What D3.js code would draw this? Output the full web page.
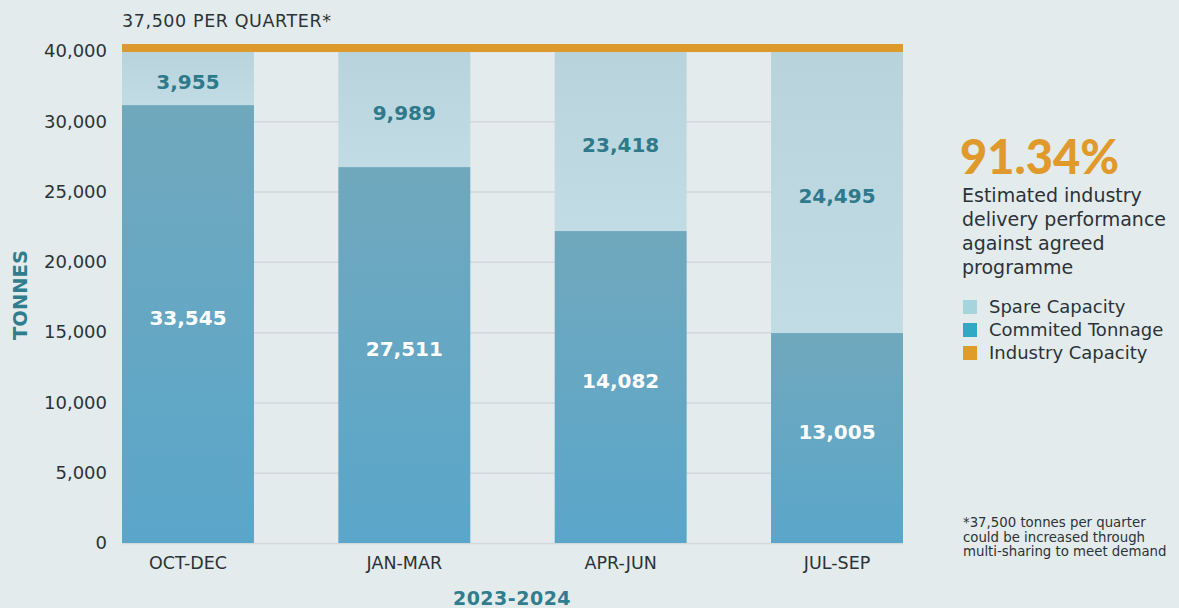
<!DOCTYPE html>
<html>
<head>
<meta charset="utf-8">
<script src="https://cdn.jsdelivr.net/npm/d3@7"></script>
<style>
  body { margin: 0; background: #e3ebed; }
  text { font-family: "DejaVu Sans", sans-serif; }
</style>
</head>
<body>
<div id="chart"></div>
<script>
// quarters on the x axis
var quarters = ["OCT-DEC", "JAN-MAR", "APR-JUN", "JUL-SEP"];
// bar heights as drawn in the picture (read against the axis)
var committedDrawn = [31150, 26740, 22190, 14935];
var totalDrawn = [35000, 35000, 35000, 35000];
var capacityLine = 35000;
// printed values
var committedLabels = ["33,545", "27,511", "14,082", "13,005"];
var spareLabels = ["3,955", "9,989", "23,418", "24,495"];
// y axis ticks (the top label reads 40,000 in the original)
var yTickValues = [0, 5000, 10000, 15000, 20000, 25000, 30000, 35000];
var yTickLabels = ["0", "5,000", "10,000", "15,000", "20,000", "25,000", "30,000", "40,000"];
// legend
var legendItems = ["Spare Capacity", "Commited Tonnage", "Industry Capacity"];
var legendColors = ["#a6d4dd", "#31a9c4", "#df9c2b"];
var noteLines = ["Estimated industry", "delivery performance", "against agreed", "programme"];
var footLines = ["*37,500 tonnes per quarter", "could be increased through", "multi-sharing to meet demand"];

var svgWidth = 1179;
var svgHeight = 608;

var svg = d3.select("#chart")
  .append("svg")
  .attr("width", svgWidth)
  .attr("height", svgHeight);

svg.append("rect")
  .attr("width", svgWidth)
  .attr("height", svgHeight)
  .attr("fill", "#e3ebed");

var defs = svg.append("defs");
var gCommit = defs.append("linearGradient")
  .attr("id", "commitGrad")
  .attr("x1", 0).attr("y1", 0).attr("x2", 0).attr("y2", 1);
gCommit.append("stop").attr("offset", "0%").attr("stop-color", "#70a8bd");
gCommit.append("stop").attr("offset", "100%").attr("stop-color", "#5aa6ca");

var gSpare = defs.append("linearGradient")
  .attr("id", "spareGrad")
  .attr("x1", 0).attr("y1", 0).attr("x2", 0).attr("y2", 1);
gSpare.append("stop").attr("offset", "0%").attr("stop-color", "#b9d3dd");
gSpare.append("stop").attr("offset", "100%").attr("stop-color", "#c1dce4");

// scales
var xScale = d3.scaleBand()
  .domain(quarters)
  .range([122, 903])
  .paddingInner(0.39)
  .paddingOuter(0);

var yScale = d3.scaleLinear()
  .domain([0, 35000])
  .range([543, 51]);

// gridlines
var grid = svg.append("g")
  .attr("transform", "translate(122,0)")
  .call(d3.axisLeft(yScale).tickValues(yTickValues).tickSize(-(903 - 122)).tickFormat(""));
grid.select(".domain").remove();
grid.selectAll("line").attr("stroke", "#d2d8db").attr("stroke-width", 1.5);

// y axis labels
var yAxis = svg.append("g")
  .attr("transform", "translate(107,0)")
  .call(d3.axisLeft(yScale).tickValues(yTickValues).tickSize(0)
    .tickFormat(function(d, i) { return yTickLabels[i]; }));
yAxis.select(".domain").remove();
yAxis.selectAll("text")
  .attr("x", 0)
  .attr("fill", "#2b3338")
  .style("font-size", "18px")
  .style("font-family", "DejaVu Sans");

// x axis labels
var xAxis = svg.append("g")
  .attr("transform", "translate(0,553)")
  .call(d3.axisBottom(xScale).tickSize(0));
xAxis.select(".domain").remove();
xAxis.selectAll("text")
  .attr("y", 0)
  .attr("dy", "0.9em")
  .attr("fill", "#2b3338")
  .style("font-size", "17.5px")
  .style("font-family", "DejaVu Sans");

// bars
var bars = svg.selectAll(".bar")
  .data(quarters)
  .enter()
  .append("g")
  .attr("class", "bar");

bars.append("rect")
  .attr("x", d => xScale(d))
  .attr("y", (d, i) => yScale(totalDrawn[i]))
  .attr("width", xScale.bandwidth())
  .attr("height", (d, i) => yScale(committedDrawn[i]) - yScale(totalDrawn[i]))
  .attr("fill", "url(#spareGrad)");

bars.append("rect")
  .attr("x", d => xScale(d))
  .attr("y", (d, i) => yScale(committedDrawn[i]))
  .attr("width", xScale.bandwidth())
  .attr("height", (d, i) => yScale(0) - yScale(committedDrawn[i]))
  .attr("fill", "url(#commitGrad)");

bars.append("text")
  .attr("x", d => xScale(d) + xScale.bandwidth() / 2)
  .attr("y", (d, i) => (yScale(totalDrawn[i]) + yScale(committedDrawn[i])) / 2 + 4)
  .attr("dy", "0.36em")
  .attr("text-anchor", "middle")
  .attr("fill", "#2e7a8b")
  .style("font-size", "20px")
  .style("font-weight", "bold")
  .text((d, i) => spareLabels[i]);

bars.append("text")
  .attr("x", d => xScale(d) + xScale.bandwidth() / 2)
  .attr("y", (d, i) => (yScale(committedDrawn[i]) + yScale(0)) / 2 - 6)
  .attr("dy", "0.36em")
  .attr("text-anchor", "middle")
  .attr("fill", "#ffffff")
  .style("font-size", "20px")
  .style("font-weight", "bold")
  .text((d, i) => committedLabels[i]);

// industry capacity line
svg.append("rect")
  .attr("x", 122)
  .attr("y", yScale(capacityLine) - 7)
  .attr("width", 903 - 122)
  .attr("height", 8)
  .attr("fill", "#dd9a2a");

svg.append("text")
  .attr("x", 122)
  .attr("y", 27)
  .attr("fill", "#2b3338")
  .style("font-size", "17.5px")
  .style("letter-spacing", "0.6px")
  .text("37,500 PER QUARTER*");

// axis titles
svg.append("text")
  .attr("transform", "translate(27,295) rotate(-90)")
  .attr("text-anchor", "middle")
  .attr("fill", "#2f7d8d")
  .style("font-size", "19.5px")
  .style("font-weight", "bold")
  .text("TONNES");

svg.append("text")
  .attr("x", 512)
  .attr("y", 605)
  .attr("text-anchor", "middle")
  .attr("fill", "#2f7d8d")
  .style("font-size", "19px")
  .style("font-weight", "bold")
  .style("letter-spacing", "0.5px")
  .text("2023-2024");

// side panel
svg.append("text")
  .attr("x", 960)
  .attr("y", 174)
  .attr("fill", "#e09a2b")
  .style("font-family", "Lato, sans-serif")
  .style("font-size", "47px")
  .style("font-weight", "900")
  .text("91.34%");

svg.selectAll(".note")
  .data(noteLines)
  .enter()
  .append("text")
  .attr("class", "note")
  .attr("x", 962)
  .attr("y", (d, i) => 202 + i * 24)
  .attr("fill", "#2b3338")
  .style("font-size", "19px")
  .text(d => d);

var legend = svg.selectAll(".legend")
  .data(legendItems)
  .enter()
  .append("g")
  .attr("class", "legend")
  .attr("transform", (d, i) => `translate(963, ${300 + i * 23})`);

legend.append("rect")
  .attr("width", 14)
  .attr("height", 14)
  .attr("fill", (d, i) => legendColors[i]);

legend.append("text")
  .attr("x", 26)
  .attr("y", 7)
  .attr("dy", "0.36em")
  .attr("fill", "#2b3338")
  .style("font-size", "18px")
  .text(d => d);

svg.selectAll(".foot")
  .data(footLines)
  .enter()
  .append("text")
  .attr("class", "foot")
  .attr("x", 963)
  .attr("y", (d, i) => 527 + i * 14.5)
  .attr("fill", "#2b3338")
  .style("font-size", "13.3px")
  .text(d => d);
</script>
</body>
</html>
